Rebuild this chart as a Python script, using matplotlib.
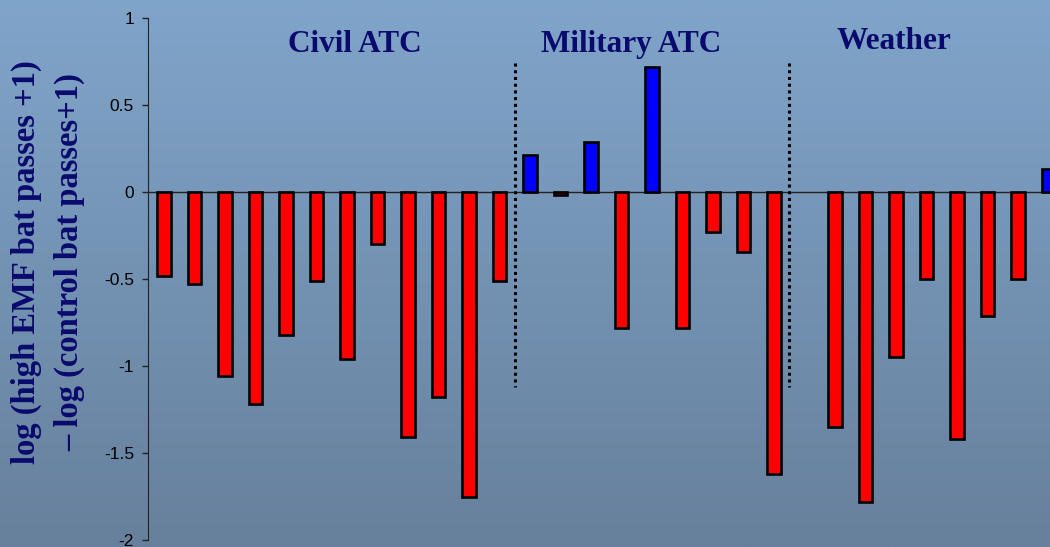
import numpy as np
import matplotlib.pyplot as plt
from matplotlib.colors import LinearSegmentedColormap

# log(high EMF passes + 1) - log(control passes + 1), one bar per site
civil = [-0.48, -0.53, -1.06, -1.22, -0.82, -0.51, -0.96, -0.30, -1.41, -1.18, -1.75, -0.51]
military = [0.21, -0.02, 0.29, -0.78, 0.72, -0.78, -0.23, -0.345, -1.62]
weather = [-1.35, -1.78, -0.95, -0.50, -1.42, -0.71, -0.50, 0.13]
groups = ['Civil ATC', 'Military ATC', 'Weather']
yticks = [1, 0.5, 0, -0.5, -1, -1.5, -2]

navy = '#0a0a6e'

values = civil + military + [np.nan] + weather
x = np.arange(len(values))
colors = ['#0000ff' if v > 0 else '#ff0000' for v in np.nan_to_num(values)]

fig = plt.figure(figsize=(10.5, 5.47), dpi=100)

# gradient background
bg = fig.add_axes([0, 0, 1, 1], zorder=0)
grad = LinearSegmentedColormap.from_list('bg', ['#80a5ca', '#67809c'])
bg.imshow(np.linspace(0, 1, 256).reshape(-1, 1), aspect='auto', cmap=grad,
          extent=[0, 1, 0, 1])
bg.axis('off')

ax = fig.add_axes([148 / 1050, 1 - 540 / 547, 1 - 148 / 1050, (540 - 18) / 547], zorder=1)
ax.patch.set_alpha(0)

ax.bar(x, values, width=0.45, color=colors, edgecolor='black', linewidth=1.9, zorder=3)
ax.axhline(0, color='#222222', lw=1.0, zorder=2)

for sx in [11.5, 20.5]:
    ax.plot([sx, sx], [0.74, -1.12], color='black', lw=2.2, linestyle=(0, (1, 1.2)),
            solid_capstyle='butt', zorder=2)

ax.set_xlim(-0.525, (1050 - 164) / 30.5)
ax.set_ylim(-2, 1)
ax.set_yticks(yticks)
ax.set_yticklabels([f'{t:g}' for t in yticks], fontsize=12.5, family='Liberation Sans')
ax.tick_params(axis='y', length=4, width=1, color='#222222', pad=6)
ax.set_xticks([])
for s in ['top', 'right', 'bottom']:
    ax.spines[s].set_visible(False)
ax.spines['left'].set_color('#222222')

tfont = dict(family='Liberation Serif', weight='bold', color=navy, fontsize=22.5)
fig.text(355 / 1050, 1 - 52 / 547, groups[0], ha='center', va='baseline', **tfont)
fig.text(631 / 1050, 1 - 52 / 547, groups[1], ha='center', va='baseline', **tfont)
fig.text(894 / 1050, 1 - 49 / 547, groups[2], ha='center', va='baseline', **tfont)

lfont = dict(family='Liberation Serif', weight='bold', color=navy, fontsize=23.5,
             rotation=90, ha='center', va='center')
fig.text(26 / 1050, 1 - 262 / 547, 'log (high EMF bat passes +1)', **lfont)
fig.text(70 / 1050, 1 - 262 / 547, '\u2013 log (control bat passes+1)', **lfont)

fig.savefig('out.png', dpi=100)
